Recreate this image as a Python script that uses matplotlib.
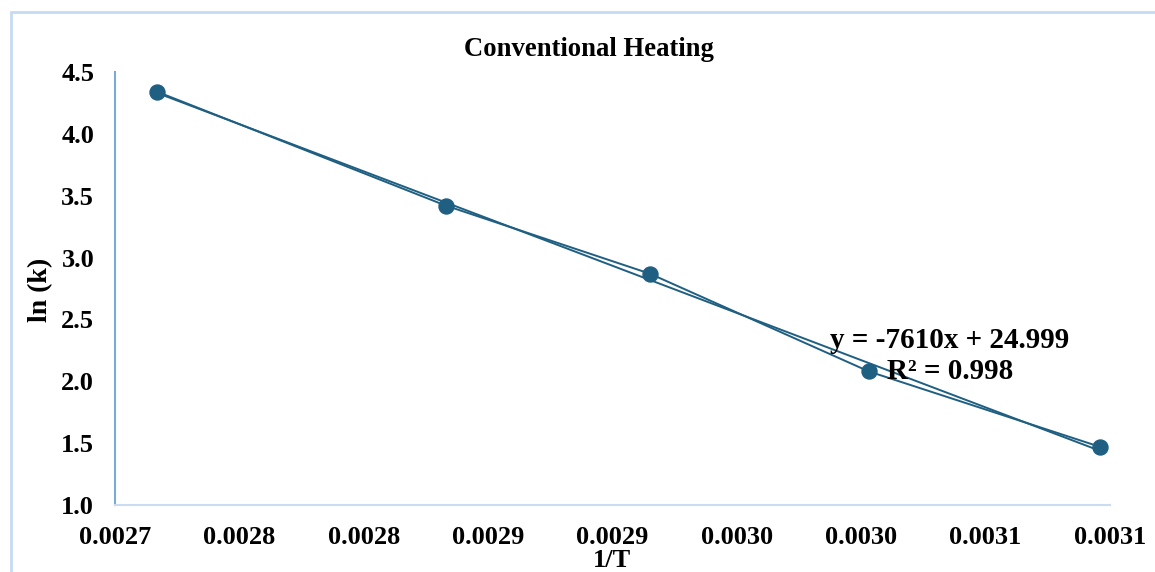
import numpy as np
import matplotlib
matplotlib.use('Agg')
from matplotlib import pyplot as plt
from matplotlib.patches import Rectangle

# 1/T values and ln(k)
inv_T = [0.002717, 0.002833, 0.002915, 0.003003, 0.003096]
ln_k = [4.34, 3.42, 2.87, 2.08, 1.47]

xtick_labels = ['0.0027', '0.0028', '0.0028', '0.0029', '0.0029',
                '0.0030', '0.0030', '0.0031', '0.0031']
ytick_labels = ['1.0', '1.5', '2.0', '2.5', '3.0', '3.5', '4.0', '4.5']
title = 'Conventional Heating'
eq_text = 'y = -7610x + 24.999\nR² = 0.998'

col = '#1f5f82'
plt.rcParams['font.family'] = ['Liberation Serif', 'DejaVu Serif']
plt.rcParams['font.weight'] = 'bold'

fig = plt.figure(figsize=(11.55, 5.72), dpi=100)
ax = fig.add_axes([115/1155, 1-505/572, 995/1155, 433/572])

# light border round the chart area (right and bottom run off the picture)
top = 1 - 12/572
fig.patches.append(Rectangle((11/1155, -0.2), 1.2, top + 0.2, transform=fig.transFigure,
                             fill=False, edgecolor='#c6dbf3', linewidth=2))

# trendline
a, b = np.polyfit(inv_T, ln_k, 1)
xs = np.array([inv_T[0], inv_T[-1]])
ax.plot(xs, a*xs + b, color=col, lw=1.4, zorder=2)
# data series
ax.plot(inv_T, ln_k, color=col, lw=1.4, marker='o', ms=10.8, zorder=3)

ax.set_xlim(0.0027, 0.0031)
ax.set_ylim(1.0, 4.5)
ax.set_xticks(np.linspace(0.0027, 0.0031, len(xtick_labels)))
ax.set_xticklabels(xtick_labels)
ax.set_yticks(np.linspace(1.0, 4.5, len(ytick_labels)))
ax.set_yticklabels(ytick_labels)
ax.tick_params(length=0, labelsize=19, pad=15)
for lab in ax.get_xticklabels() + ax.get_yticklabels():
    lab.set_fontweight('bold')

for s in ['top', 'right']:
    ax.spines[s].set_visible(False)
ax.spines['left'].set_color('#7aa9dc')
ax.spines['left'].set_linewidth(1.5)
ax.spines['bottom'].set_color('#c9dcf2')
ax.spines['bottom'].set_linewidth(1.5)

ax.set_xlabel('1/T', fontsize=19, fontweight='bold')
ax.xaxis.set_label_coords(0.4995, -0.102)
ax.set_ylabel('ln (k)', fontsize=20, fontweight='bold')
ax.yaxis.set_label_coords(-0.062, 0.4965)

fig.text(589/1155, 1-49/572, title, ha='center', va='center', fontsize=19.2, fontweight='bold')
ax.text(0.839, 0.344, eq_text, transform=ax.transAxes, ha='center', va='center',
        fontsize=21, fontweight='bold', linespacing=1.2, multialignment='center')

fig.savefig('out.png', dpi=100)
